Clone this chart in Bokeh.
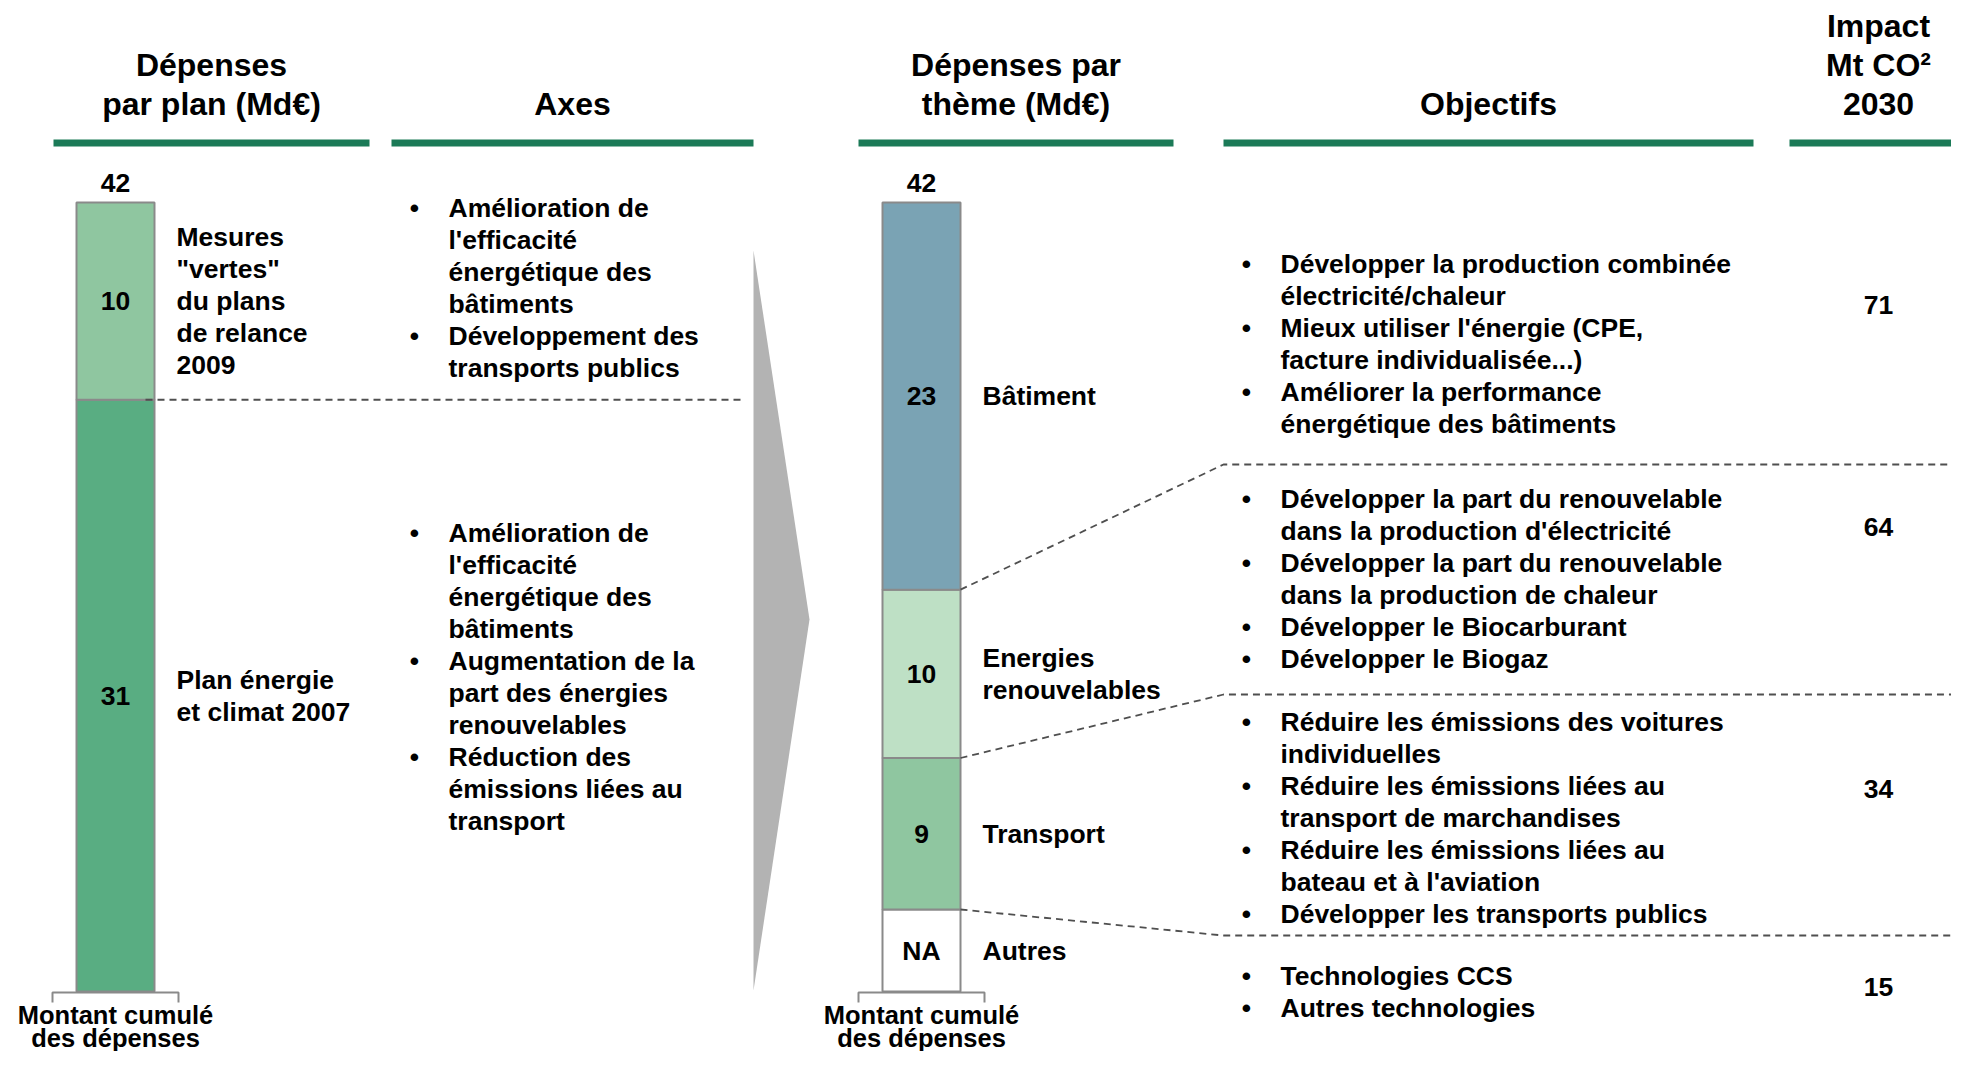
from bokeh.plotting import figure
from bokeh.models import Range1d
from bokeh.embed import file_html
from bokeh.resources import INLINE
from bokeh.core.properties import value

# ------------------------------------------------------------------ data
header_texts = [["Dépenses", "par plan (Md€)"], ["Axes"], ["Dépenses par", "thème (Md€)"],
                ["Objectifs"], ["Impact", "Mt CO²", "2030"]]

# left bar, bottom to top (heights; labels as printed)
plan_values = [31.5, 10.5]
plan_value_labels = ["31", "10"]
plan_label_lines = [["Plan énergie", "et climat 2007"],
                    ["Mesures", "\"vertes\"", "du plans", "de relance", "2009"]]
plan_total_label = "42"

axes_blocks = [
    [["Amélioration de", "l'efficacité", "énergétique des", "bâtiments"],
     ["Développement des", "transports publics"]],
    [["Amélioration de", "l'efficacité", "énergétique des", "bâtiments"],
     ["Augmentation de la", "part des énergies", "renouvelables"],
     ["Réduction des", "émissions liées au", "transport"]],
]

# right bar, bottom to top
theme_values = [9, 10, 23]
theme_value_labels = ["9", "10", "23"]
theme_label_lines = [["Transport"], ["Energies", "renouvelables"], ["Bâtiment"]]
theme_total_label = "42"
other_label = "Autres"
other_value_label = "NA"

# objectives, top to bottom (Bâtiment, Energies renouvelables, Transport, Autres)
objective_blocks = [
    [["Développer la production combinée", "électricité/chaleur"],
     ["Mieux utiliser l'énergie (CPE,", "facture individualisée...)"],
     ["Améliorer la performance", "énergétique des bâtiments"]],
    [["Développer la part du renouvelable", "dans la production d'électricité"],
     ["Développer la part du renouvelable", "dans la production de chaleur"],
     ["Développer le Biocarburant"],
     ["Développer le Biogaz"]],
    [["Réduire les émissions des voitures", "individuelles"],
     ["Réduire les émissions liées au", "transport de marchandises"],
     ["Réduire les émissions liées au", "bateau et à l'aviation"],
     ["Développer les transports publics"]],
    [["Technologies CCS"], ["Autres technologies"]],
]
impact_values = ["71", "64", "34", "15"]
bottom_caption = ["Montant cumulé", "des dépenses"]

# ------------------------------------------------------------------ layout / style
W, H = 1951, 1051
FONT = value("Liberation Sans")
BODY = "26.5px"
HEAD = "32px"
CAP = "25.5px"
LH = 32
HLH = 39

header_segments = [(53, 369), (391, 753), (858, 1173), (1223, 1753), (1789, 1967)]
header_line_y = (139, 146)
header_last_line_y = 103

bar_top_px, bar_bottom_px, theme_zero_px = 202, 991, 909
plan_x, theme_x, bar_w = 115, 921, 78
plan_colors = ["#59AD82", "#8FC6A0"]
theme_colors = ["#8FC6A0", "#BEE0C5", "#7AA3B4"]
border = "#8A8A8A"
dash_col = "#4F4F4F"
green_line = "#1B7A57"

plan_total = sum(plan_values)
theme_total = sum(theme_values)
plan_scale = (bar_bottom_px - bar_top_px) / plan_total
theme_scale = (theme_zero_px - bar_top_px) / theme_total

p = figure(width=W, height=H, x_range=Range1d(0, W), y_range=Range1d(H, 0),
           output_backend="svg", toolbar_location=None, min_border=0,
           x_axis_type=None, y_axis_type=None)
p.grid.visible = False
p.outline_line_color = None
p.background_fill_color = "white"
p.border_fill_color = "white"

p.extra_y_ranges = {
    "plan": Range1d(-(H - bar_bottom_px) / plan_scale, bar_bottom_px / plan_scale),
    "theme": Range1d(-(H - theme_zero_px) / theme_scale, theme_zero_px / theme_scale),
}


def txt(x, y, t, size=BODY, align="left", rng="default", color="black"):
    p.text(x=x, y=y, text=t, text_font=FONT, text_font_size=size, text_font_style="bold",
           text_align=align, text_baseline="middle", text_color=color, y_range_name=rng)


# headers
for (x0, x1), lines in zip(header_segments, header_texts):
    p.quad(left=[x0], right=[x1], top=[header_line_y[0]], bottom=[header_line_y[1]],
           fill_color=green_line, line_color=None)
    n = len(lines)
    cx = (x0 + x1) / 2
    txt([cx] * n, [header_last_line_y - (n - 1 - i) * HLH for i in range(n)], lines,
        size=HEAD, align="center")

# ---- left bar
pb, pt = [], []
acc = 0
for v in plan_values:
    pb.append(acc); acc += v; pt.append(acc)
p.vbar(x=[plan_x] * len(plan_values), width=bar_w, bottom=pb, top=pt, fill_color=plan_colors,
       line_color=border, line_width=2, y_range_name="plan")
mids = [(b + t) / 2 for b, t in zip(pb, pt)]
txt([plan_x] * len(mids), mids, plan_value_labels, align="center", rng="plan")
txt([plan_x], [plan_total + 20 / plan_scale], [plan_total_label], align="center", rng="plan")
for m, lines in zip(mids, plan_label_lines):
    n = len(lines)
    ys = [m - (i - (n - 1) / 2) * LH / plan_scale for i in range(n)]
    txt([176] * n, ys, lines, rng="plan")
# dashed separator
p.line(x=[145, 740], y=[pt[0], pt[0]], line_color=dash_col, line_width=1.8, line_dash="7 5",
       y_range_name="plan")

# ---- arrow
p.patch(x=[753, 809, 753], y=[250, 619, 990], fill_color="#B3B3B3", line_color=None)

# ---- right bar
tb, tt = [], []
acc = 0
for v in theme_values:
    tb.append(acc); acc += v; tt.append(acc)
na_bottom = -(bar_bottom_px - theme_zero_px) / theme_scale
p.vbar(x=[theme_x], width=bar_w, bottom=[na_bottom], top=[0], fill_color="white",
       line_color=border, line_width=2, y_range_name="theme")
p.vbar(x=[theme_x] * len(theme_values), width=bar_w, bottom=tb, top=tt, fill_color=theme_colors,
       line_color=border, line_width=2, y_range_name="theme")
tm = [(b + t) / 2 for b, t in zip(tb, tt)]
txt([theme_x] * len(tm), tm, theme_value_labels, align="center", rng="theme")
txt([theme_x], [theme_total + 20 / theme_scale], [theme_total_label], align="center", rng="theme")
txt([theme_x], [na_bottom / 2], [other_value_label], align="center", rng="theme")
txt([982], [na_bottom / 2], [other_label], rng="theme")
for m, lines in zip(tm, theme_label_lines):
    n = len(lines)
    ys = [m - (i - (n - 1) / 2) * LH / theme_scale for i in range(n)]
    txt([982] * n, ys, lines, rng="theme")

# connectors from segment boundaries to the row separators
sep_px = [464, 694, 935]
bounds = [tb[2], tb[1], tb[0]]
for b, s in zip(bounds, sep_px):
    su = (theme_zero_px - s) / theme_scale
    p.line(x=[960, 1223, W], y=[b, su, su], line_color=dash_col, line_width=1.8,
           line_dash="7 5", y_range_name="theme")

# brackets + captions
for cx in (plan_x, theme_x):
    p.line(x=[cx - 63, cx - 63, cx + 63, cx + 63], y=[1002, 992, 992, 1002],
           line_color=border, line_width=2)
    txt([cx, cx], [1014, 1037], bottom_caption, size=CAP, align="center")


# ---- bullet blocks
def bullets(blocks_first_y, blocks, xb, xt):
    bx, by, lx, ly, lt = [], [], [], [], []
    for y0, block in zip(blocks_first_y, blocks):
        y = y0
        for item in block:
            bx.append(xb); by.append(y)
            for ln in item:
                lx.append(xt); ly.append(y); lt.append(ln)
                y += LH
    txt(bx, by, ["•"] * len(bx), align="center")
    txt(lx, ly, lt)


bullets([207, 532], axes_blocks, 414, 448)
bullets([263, 498, 721, 975], objective_blocks, 1246, 1280)

txt([1878] * 4, [304, 526, 788, 986], impact_values, align="center")

open("out.html", "w").write(file_html(p, INLINE))
